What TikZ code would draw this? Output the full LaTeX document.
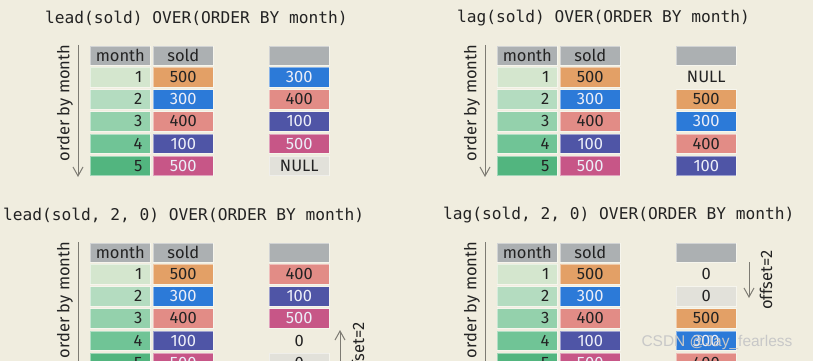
\documentclass[tikz,border=0pt]{standalone}
\usepackage{fontspec}
\setmainfont{Fira Sans}
\newfontfamily\monof{DejaVu Sans Mono}
\newfontfamily\wmf{Liberation Sans}
\usetikzlibrary{arrows.meta}
\definecolor{bg}{RGB}{240,237,223}
\definecolor{hdr}{RGB}{172,176,178}
\definecolor{g1}{RGB}{212,230,206}
\definecolor{g2}{RGB}{180,220,192}
\definecolor{g3}{RGB}{148,209,172}
\definecolor{g4}{RGB}{112,196,150}
\definecolor{g5}{RGB}{82,181,127}
\definecolor{corg}{RGB}{227,160,102}
\definecolor{cblu}{RGB}{44,122,216}
\definecolor{cpnk}{RGB}{226,140,134}
\definecolor{cind}{RGB}{79,85,166}
\definecolor{cmag}{RGB}{199,86,135}
\definecolor{cgry}{RGB}{226,225,218}
\definecolor{txtd}{RGB}{35,35,35}
\definecolor{txtw}{RGB}{236,238,248}
\definecolor{arr}{RGB}{125,123,115}
\definecolor{wmtext}{RGB}{200,200,200}
\tikzset{
  cell/.style={inner sep=0pt, minimum width=60pt, minimum height=19.5pt, anchor=north west,
    font=\fontsize{16.5}{17}\selectfont, draw=white, draw opacity=0.45, line width=0.6pt},
  hdrcell/.style={cell, fill=hdr, minimum height=18.5pt, text=txtd},
  monthcell/.style={cell, text width=44pt, align=right, inner xsep=8pt, text=txtd},
  s-orange/.style={fill=corg, text=txtd},
  s-blue/.style={fill=cblu, text=txtw},
  s-pink/.style={fill=cpnk, text=txtd},
  s-indigo/.style={fill=cind, text=txtw},
  s-magenta/.style={fill=cmag, text=txtw},
  s-gray/.style={fill=cgry, text=txtd},
  s-none/.style={draw=none, text=txtd},
  titletext/.style={anchor=west, inner sep=0pt, font=\monof\fontsize{16.2}{18}\selectfont, text=txtd},
  sidetext/.style={rotate=90, inner sep=0pt, font=\fontsize{16.5}{17}\selectfont, text=txtd},
  guide/.style={draw=arr, line width=1pt, -{Straight Barb[length=9pt,width=10pt]}}
}
% #1 prefix, #2 ox, #3 oy, #4 title x, #5 title, #6 result list
\newcommand{\drawpanel}[6]{%
  \node[titletext] (#1title) at (#4,{#3-28}) {#5};
  \node[hdrcell] (#1hm) at (#2,#3) {month};
  \node[hdrcell] (#1hs) at ({#2+63},#3) {sold};
  \node[hdrcell] (#1hr) at ({#2+179},#3) {};
  \foreach \gc [count=\i] in {g1,g2,g3,g4,g5}
    \node[monthcell, fill=\gc] (#1m\i) at (#2,{#3+21+(\i-1)*22.2}) {\i};
  \foreach \st/\val [count=\i] in {orange/500,blue/300,pink/400,indigo/100,magenta/500}
    \node[cell, s-\st] (#1s\i) at ({#2+63},{#3+21+(\i-1)*22.2}) {\val};
  \foreach \st/\val [count=\i] in {#6}
    \node[cell, s-\st] (#1r\i) at ({#2+179},{#3+21+(\i-1)*22.2}) {\val};
  \coordinate (#1a) at ({#2-12},{#3-1});
  \coordinate (#1b) at ({#2-12},{#3+131});
  \draw[guide] (#1a) -- (#1b);
  \node[sidetext] (#1lbl) at ({#2-25},{#3+57}) {order by month};
}
\begin{document}
\begin{tikzpicture}[x=1pt,y=-1pt]
\useasboundingbox (0,0) rectangle (813,361);
\begin{scope}
\clip (0,0) rectangle (813,361);
\fill[bg] (0,0) rectangle (813,361);
\drawpanel{tl}{90}{46}{45}{lead(sold) OVER(ORDER BY month)}{blue/300,pink/400,indigo/100,magenta/500,gray/NULL}
\drawpanel{tr}{497}{46}{457}{lag(sold) OVER(ORDER BY month)}{none/NULL,orange/500,blue/300,pink/400,indigo/100}
\drawpanel{bl}{90}{243}{3}{lead(sold, 2, 0) OVER(ORDER BY month)}{pink/400,indigo/100,magenta/500,none/0,gray/0}
\drawpanel{br}{497}{243}{443}{lag(sold, 2, 0) OVER(ORDER BY month)}{none/0,gray/0,orange/500,blue/300,pink/400}
% offset arrows
\coordinate (bloa) at (340,370);
\coordinate (blob) at (340,330);
\draw[guide] (bloa) -- (blob);
\node[sidetext] (bloff) at (358,352) {offset=2};
\coordinate (broa) at (749,262);
\coordinate (brob) at (749,298);
\draw[guide] (broa) -- (brob);
\node[sidetext] (broff) at (766,280) {offset=2};
% watermark
\node[font=\wmf\fontsize{15.5}{16}\selectfont, text=wmtext] (wm) at (717,342) {CSDN @Jay\_fearless};
\end{scope}
\end{tikzpicture}
\end{document}
